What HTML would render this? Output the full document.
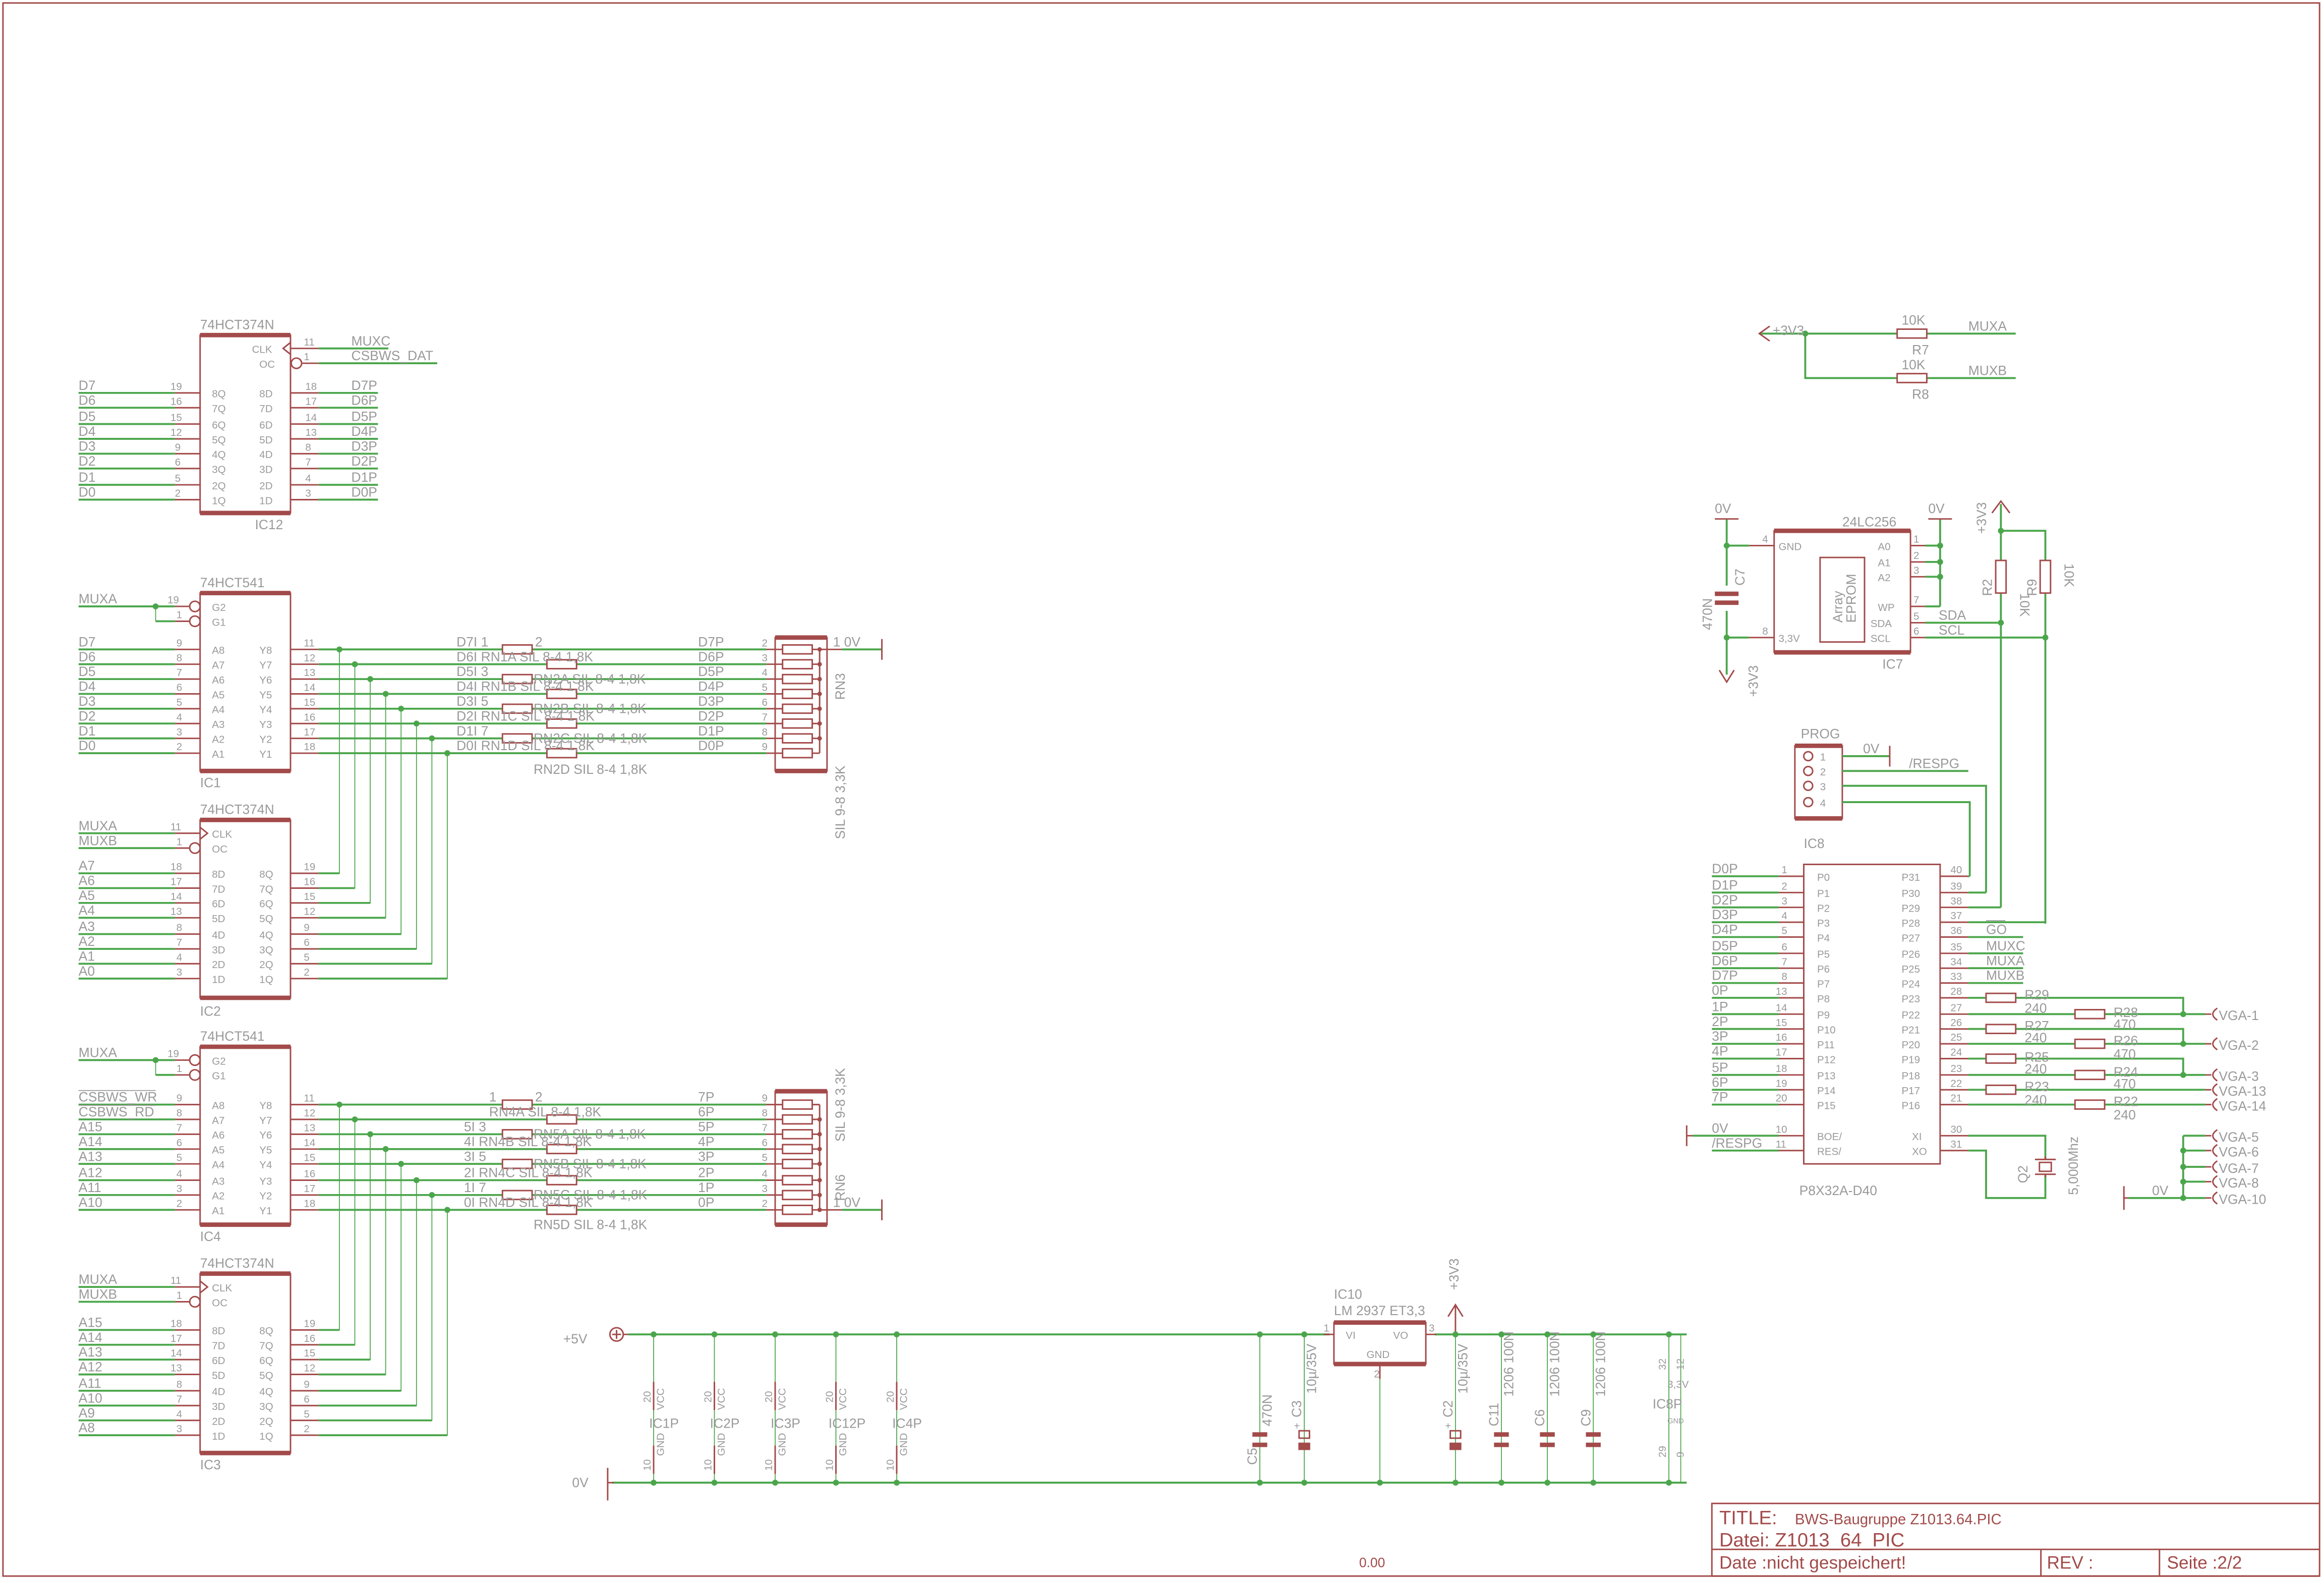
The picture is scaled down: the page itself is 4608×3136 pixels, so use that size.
<!DOCTYPE html>
<html><head><meta charset="utf-8"><style>
html,body{margin:0;padding:0;background:#fff}
svg{display:block}
.g{stroke:#4ba64b;stroke-width:1.3;fill:none}
.gt{stroke:#4ba64b;stroke-width:.6;fill:none}
.r{stroke:#a34a4a;stroke-width:1;fill:none}
.rt{stroke:#a34a4a;stroke-width:3;fill:none}
.t{fill:#9a9a9a;font-family:"Liberation Sans",sans-serif;font-size:9px}
.s{fill:#9a9a9a;font-family:"Liberation Sans",sans-serif;font-size:7px}
.rd{fill:#a34a4a;font-family:"Liberation Sans",sans-serif}
.j{fill:#4ba64b}
.rf{fill:#a34a4a}
</style></head><body>
<svg width="4608" height="3136" viewBox="0 0 1568 1067" preserveAspectRatio="none" xmlns="http://www.w3.org/2000/svg">
<rect x="2" y="2" width="1563" height="1061" class="r"/>

<!-- ===== IC12 74HCT374N ===== -->
<text class="t" x="135" y="222">74HCT374N</text>
<rect x="135" y="226" width="61" height="120" class="r"/>
<line x1="135" y1="226" x2="196" y2="226" class="rt"/><line x1="135" y1="346" x2="196" y2="346" class="rt"/>
<text class="t" x="172" y="357">IC12</text>
<text class="s" x="170" y="238">CLK</text><path d="M196 231 L191 235 L196 239" class="r"/>
<line x1="196" y1="235" x2="215" y2="235" class="r"/><line x1="215" y1="235" x2="262" y2="235" class="g"/>
<text class="s" x="205" y="233">11</text><text class="t" x="237" y="233">MUXC</text>
<text class="s" x="175" y="248">OC</text><circle cx="200" cy="245" r="3.5" class="r"/>
<line x1="204" y1="245" x2="215" y2="245" class="r"/><line x1="215" y1="245" x2="295" y2="245" class="g"/>
<text class="s" x="205" y="243">1</text><text class="t" x="237" y="243">CSBWS_DAT</text>
<g>
<line x1="53" y1="265" x2="118" y2="265" class="g"/><line x1="118" y1="265" x2="135" y2="265" class="r"/><text class="t" x="53" y="263">D7</text><text class="s" x="115" y="263">19</text><text class="s" x="143" y="268">8Q</text><text class="s" x="175" y="268">8D</text><line x1="196" y1="265" x2="215" y2="265" class="r"/><line x1="215" y1="265" x2="255" y2="265" class="g"/><text class="s" x="206" y="263">18</text><text class="t" x="237" y="263">D7P</text>
<line x1="53" y1="275" x2="118" y2="275" class="g"/><line x1="118" y1="275" x2="135" y2="275" class="r"/><text class="t" x="53" y="273">D6</text><text class="s" x="115" y="273">16</text><text class="s" x="143" y="278">7Q</text><text class="s" x="175" y="278">7D</text><line x1="196" y1="275" x2="215" y2="275" class="r"/><line x1="215" y1="275" x2="255" y2="275" class="g"/><text class="s" x="206" y="273">17</text><text class="t" x="237" y="273">D6P</text>
<line x1="53" y1="286" x2="118" y2="286" class="g"/><line x1="118" y1="286" x2="135" y2="286" class="r"/><text class="t" x="53" y="284">D5</text><text class="s" x="115" y="284">15</text><text class="s" x="143" y="289">6Q</text><text class="s" x="175" y="289">6D</text><line x1="196" y1="286" x2="215" y2="286" class="r"/><line x1="215" y1="286" x2="255" y2="286" class="g"/><text class="s" x="206" y="284">14</text><text class="t" x="237" y="284">D5P</text>
<line x1="53" y1="296" x2="118" y2="296" class="g"/><line x1="118" y1="296" x2="135" y2="296" class="r"/><text class="t" x="53" y="294">D4</text><text class="s" x="115" y="294">12</text><text class="s" x="143" y="299">5Q</text><text class="s" x="175" y="299">5D</text><line x1="196" y1="296" x2="215" y2="296" class="r"/><line x1="215" y1="296" x2="255" y2="296" class="g"/><text class="s" x="206" y="294">13</text><text class="t" x="237" y="294">D4P</text>
<line x1="53" y1="306" x2="118" y2="306" class="g"/><line x1="118" y1="306" x2="135" y2="306" class="r"/><text class="t" x="53" y="304">D3</text><text class="s" x="118" y="304">9</text><text class="s" x="143" y="309">4Q</text><text class="s" x="175" y="309">4D</text><line x1="196" y1="306" x2="215" y2="306" class="r"/><line x1="215" y1="306" x2="255" y2="306" class="g"/><text class="s" x="206" y="304">8</text><text class="t" x="237" y="304">D3P</text>
<line x1="53" y1="316" x2="118" y2="316" class="g"/><line x1="118" y1="316" x2="135" y2="316" class="r"/><text class="t" x="53" y="314">D2</text><text class="s" x="118" y="314">6</text><text class="s" x="143" y="319">3Q</text><text class="s" x="175" y="319">3D</text><line x1="196" y1="316" x2="215" y2="316" class="r"/><line x1="215" y1="316" x2="255" y2="316" class="g"/><text class="s" x="206" y="314">7</text><text class="t" x="237" y="314">D2P</text>
<line x1="53" y1="327" x2="118" y2="327" class="g"/><line x1="118" y1="327" x2="135" y2="327" class="r"/><text class="t" x="53" y="325">D1</text><text class="s" x="118" y="325">5</text><text class="s" x="143" y="330">2Q</text><text class="s" x="175" y="330">2D</text><line x1="196" y1="327" x2="215" y2="327" class="r"/><line x1="215" y1="327" x2="255" y2="327" class="g"/><text class="s" x="206" y="325">4</text><text class="t" x="237" y="325">D1P</text>
<line x1="53" y1="337" x2="118" y2="337" class="g"/><line x1="118" y1="337" x2="135" y2="337" class="r"/><text class="t" x="53" y="335">D0</text><text class="s" x="118" y="335">2</text><text class="s" x="143" y="340">1Q</text><text class="s" x="175" y="340">1D</text><line x1="196" y1="337" x2="215" y2="337" class="r"/><line x1="215" y1="337" x2="255" y2="337" class="g"/><text class="s" x="206" y="335">3</text><text class="t" x="237" y="335">D0P</text>
</g>

<!-- ===== IC1 74HCT541 ===== -->
<text class="t" x="135" y="396">74HCT541</text>
<rect x="135" y="400" width="61" height="120" class="r"/>
<line x1="135" y1="400" x2="196" y2="400" class="rt"/><line x1="135" y1="520" x2="196" y2="520" class="rt"/>
<text class="t" x="135" y="531">IC1</text>
<line x1="53" y1="409" x2="118" y2="409" class="g"/><line x1="105" y1="409" x2="105" y2="419" class="gt"/><line x1="105" y1="419" x2="118" y2="419" class="g"/><circle cx="105" cy="409" r="2" class="j"/>
<line x1="118" y1="409" x2="128" y2="409" class="r"/><line x1="118" y1="419" x2="128" y2="419" class="r"/>
<circle cx="131.5" cy="409" r="3.5" class="r"/><circle cx="131.5" cy="419" r="3.5" class="r"/>
<text class="t" x="53" y="407">MUXA</text><text class="s" x="113" y="407">19</text><text class="s" x="119" y="417">1</text>
<text class="s" x="143" y="412">G2</text><text class="s" x="143" y="422">G1</text>

<!-- IC4 header -->
<text class="t" x="135" y="702">74HCT541</text>
<rect x="135" y="706" width="61" height="120" class="r"/>
<line x1="135" y1="706" x2="196" y2="706" class="rt"/><line x1="135" y1="826" x2="196" y2="826" class="rt"/>
<text class="t" x="135" y="837">IC4</text>
<line x1="53" y1="715" x2="118" y2="715" class="g"/><line x1="105" y1="715" x2="105" y2="725" class="gt"/><line x1="105" y1="725" x2="118" y2="725" class="g"/><circle cx="105" cy="715" r="2" class="j"/>
<line x1="118" y1="715" x2="128" y2="715" class="r"/><line x1="118" y1="725" x2="128" y2="725" class="r"/>
<circle cx="131.5" cy="715" r="3.5" class="r"/><circle cx="131.5" cy="725" r="3.5" class="r"/>
<text class="t" x="53" y="713">MUXA</text><text class="s" x="113" y="713">19</text><text class="s" x="119" y="723">1</text>
<text class="s" x="143" y="718">G2</text><text class="s" x="143" y="728">G1</text>

<!-- IC1 rows -->
<g>
<line x1="53" y1="438" x2="118" y2="438" class="g"/><line x1="118" y1="438" x2="135" y2="438" class="r"/><text class="t" x="53" y="436">D7</text><text class="s" x="119" y="436">9</text><text class="s" x="143" y="441">A8</text><text class="s" x="175" y="441">Y8</text><line x1="196" y1="438" x2="215" y2="438" class="r"/><text class="s" x="205" y="436">11</text>
<line x1="53" y1="448" x2="118" y2="448" class="g"/><line x1="118" y1="448" x2="135" y2="448" class="r"/><text class="t" x="53" y="446">D6</text><text class="s" x="119" y="446">8</text><text class="s" x="143" y="451">A7</text><text class="s" x="175" y="451">Y7</text><line x1="196" y1="448" x2="215" y2="448" class="r"/><text class="s" x="205" y="446">12</text>
<line x1="53" y1="458" x2="118" y2="458" class="g"/><line x1="118" y1="458" x2="135" y2="458" class="r"/><text class="t" x="53" y="456">D5</text><text class="s" x="119" y="456">7</text><text class="s" x="143" y="461">A6</text><text class="s" x="175" y="461">Y6</text><line x1="196" y1="458" x2="215" y2="458" class="r"/><text class="s" x="205" y="456">13</text>
<line x1="53" y1="468" x2="118" y2="468" class="g"/><line x1="118" y1="468" x2="135" y2="468" class="r"/><text class="t" x="53" y="466">D4</text><text class="s" x="119" y="466">6</text><text class="s" x="143" y="471">A5</text><text class="s" x="175" y="471">Y5</text><line x1="196" y1="468" x2="215" y2="468" class="r"/><text class="s" x="205" y="466">14</text>
<line x1="53" y1="478" x2="118" y2="478" class="g"/><line x1="118" y1="478" x2="135" y2="478" class="r"/><text class="t" x="53" y="476">D3</text><text class="s" x="119" y="476">5</text><text class="s" x="143" y="481">A4</text><text class="s" x="175" y="481">Y4</text><line x1="196" y1="478" x2="215" y2="478" class="r"/><text class="s" x="205" y="476">15</text>
<line x1="53" y1="488" x2="118" y2="488" class="g"/><line x1="118" y1="488" x2="135" y2="488" class="r"/><text class="t" x="53" y="486">D2</text><text class="s" x="119" y="486">4</text><text class="s" x="143" y="491">A3</text><text class="s" x="175" y="491">Y3</text><line x1="196" y1="488" x2="215" y2="488" class="r"/><text class="s" x="205" y="486">16</text>
<line x1="53" y1="498" x2="118" y2="498" class="g"/><line x1="118" y1="498" x2="135" y2="498" class="r"/><text class="t" x="53" y="496">D1</text><text class="s" x="119" y="496">3</text><text class="s" x="143" y="501">A2</text><text class="s" x="175" y="501">Y2</text><line x1="196" y1="498" x2="215" y2="498" class="r"/><text class="s" x="205" y="496">17</text>
<line x1="53" y1="508" x2="118" y2="508" class="g"/><line x1="118" y1="508" x2="135" y2="508" class="r"/><text class="t" x="53" y="506">D0</text><text class="s" x="119" y="506">2</text><text class="s" x="143" y="511">A1</text><text class="s" x="175" y="511">Y1</text><line x1="196" y1="508" x2="215" y2="508" class="r"/><text class="s" x="205" y="506">18</text>
</g>
<!-- IC1 right wires with resistors -->
<g>
<path d="M215 438 H339 M359 438 H517" class="g"/><rect x="339" y="435" width="20" height="6" class="r"/>
<path d="M215 448 H369 M389 448 H517" class="g"/><rect x="369" y="445" width="20" height="6" class="r"/>
<path d="M215 458 H339 M359 458 H517" class="g"/><rect x="339" y="455" width="20" height="6" class="r"/>
<path d="M215 468 H369 M389 468 H517" class="g"/><rect x="369" y="465" width="20" height="6" class="r"/>
<path d="M215 478 H339 M359 478 H517" class="g"/><rect x="339" y="475" width="20" height="6" class="r"/>
<path d="M215 488 H369 M389 488 H517" class="g"/><rect x="369" y="485" width="20" height="6" class="r"/>
<path d="M215 498 H339 M359 498 H517" class="g"/><rect x="339" y="495" width="20" height="6" class="r"/>
<path d="M215 508 H369 M389 508 H517" class="g"/><rect x="369" y="505" width="20" height="6" class="r"/>
<text class="t" x="308" y="436">D7I 1</text><text class="t" x="361" y="436">2</text>
<text class="t" x="308" y="446">D6I RN1A SIL 8-4 1,8K</text>
<text class="t" x="308" y="456">D5I 3</text><text class="t" x="360" y="461">RN2A SIL 8-4 1,8K</text>
<text class="t" x="308" y="466">D4I RN1B SIL 8-4 1,8K</text>
<text class="t" x="308" y="476">D3I 5</text><text class="t" x="360" y="481">RN2B SIL 8-4 1,8K</text>
<text class="t" x="308" y="486">D2I RN1C SIL 8-4 1,8K</text>
<text class="t" x="308" y="496">D1I 7</text><text class="t" x="360" y="501">RN2C SIL 8-4 1,8K</text>
<text class="t" x="308" y="506">D0I RN1D SIL 8-4 1,8K</text>
<text class="t" x="360" y="522">RN2D SIL 8-4 1,8K</text>
<text class="t" x="471" y="436">D7P</text><text class="t" x="471" y="446">D6P</text><text class="t" x="471" y="456">D5P</text><text class="t" x="471" y="466">D4P</text><text class="t" x="471" y="476">D3P</text><text class="t" x="471" y="486">D2P</text><text class="t" x="471" y="496">D1P</text><text class="t" x="471" y="506">D0P</text>
</g>
<!-- RN3 -->
<g>
<rect x="523" y="430" width="35" height="90" class="r"/><line x1="523" y1="430" x2="558" y2="430" class="rt"/><line x1="523" y1="520" x2="558" y2="520" class="rt"/>
<path d="M517 438 H528 M517 448 H528 M517 458 H528 M517 468 H528 M517 478 H528 M517 488 H528 M517 498 H528 M517 508 H528" class="r"/>
<rect x="528" y="435" width="20" height="6" class="r"/><rect x="528" y="445" width="20" height="6" class="r"/><rect x="528" y="455" width="20" height="6" class="r"/><rect x="528" y="465" width="20" height="6" class="r"/><rect x="528" y="475" width="20" height="6" class="r"/><rect x="528" y="485" width="20" height="6" class="r"/><rect x="528" y="495" width="20" height="6" class="r"/><rect x="528" y="505" width="20" height="6" class="r"/>
<path d="M548 438 H553 M548 448 H553 M548 458 H553 M548 468 H553 M548 478 H553 M548 488 H553 M548 498 H553 M548 508 H553 M553 438 V508 M553 438 H568" class="r"/>
<circle cx="553" cy="438" r="1.5" class="rf"/><circle cx="553" cy="448" r="1.5" class="rf"/><circle cx="553" cy="458" r="1.5" class="rf"/><circle cx="553" cy="468" r="1.5" class="rf"/><circle cx="553" cy="478" r="1.5" class="rf"/><circle cx="553" cy="488" r="1.5" class="rf"/><circle cx="553" cy="498" r="1.5" class="rf"/>
<line x1="568" y1="438" x2="595" y2="438" class="g"/><line x1="595" y1="431" x2="595" y2="445" class="r"/>
<text class="t" x="562" y="436">1 0V</text>
<text class="s" x="514" y="436">2</text><text class="s" x="514" y="446">3</text><text class="s" x="514" y="456">4</text><text class="s" x="514" y="466">5</text><text class="s" x="514" y="476">6</text><text class="s" x="514" y="486">7</text><text class="s" x="514" y="496">8</text><text class="s" x="514" y="506">9</text>
<text class="t" transform="translate(570,472) rotate(-90)">RN3</text>
<text class="t" transform="translate(570,566) rotate(-90)">SIL 9-8 3,3K</text>
</g>

<!-- ===== IC2 74HCT374N ===== -->
<text class="t" x="135" y="549">74HCT374N</text>
<rect x="135" y="553" width="61" height="120" class="r"/>
<line x1="135" y1="553" x2="196" y2="553" class="rt"/><line x1="135" y1="673" x2="196" y2="673" class="rt"/>
<text class="t" x="135" y="685">IC2</text>
<line x1="53" y1="562" x2="118" y2="562" class="g"/><line x1="118" y1="562" x2="135" y2="562" class="r"/><path d="M135 558 L140 562 L135 566" class="r"/><text class="t" x="53" y="560">MUXA</text><text class="s" x="115" y="560">11</text><text class="s" x="143" y="565">CLK</text>
<line x1="53" y1="572" x2="118" y2="572" class="g"/><line x1="118" y1="572" x2="128" y2="572" class="r"/><circle cx="131.5" cy="572" r="3.5" class="r"/><text class="t" x="53" y="570">MUXB</text><text class="s" x="119" y="570">1</text><text class="s" x="143" y="575">OC</text>
<g>
<line x1="53" y1="589" x2="118" y2="589" class="g"/><line x1="118" y1="589" x2="135" y2="589" class="r"/><text class="t" x="53" y="587">A7</text><text class="s" x="115" y="587">18</text><text class="s" x="143" y="592">8D</text><text class="s" x="175" y="592">8Q</text><line x1="196" y1="589" x2="215" y2="589" class="r"/><text class="s" x="205" y="587">19</text>
<line x1="53" y1="599" x2="118" y2="599" class="g"/><line x1="118" y1="599" x2="135" y2="599" class="r"/><text class="t" x="53" y="597">A6</text><text class="s" x="115" y="597">17</text><text class="s" x="143" y="602">7D</text><text class="s" x="175" y="602">7Q</text><line x1="196" y1="599" x2="215" y2="599" class="r"/><text class="s" x="205" y="597">16</text>
<line x1="53" y1="609" x2="118" y2="609" class="g"/><line x1="118" y1="609" x2="135" y2="609" class="r"/><text class="t" x="53" y="607">A5</text><text class="s" x="115" y="607">14</text><text class="s" x="143" y="612">6D</text><text class="s" x="175" y="612">6Q</text><line x1="196" y1="609" x2="215" y2="609" class="r"/><text class="s" x="205" y="607">15</text>
<line x1="53" y1="619" x2="118" y2="619" class="g"/><line x1="118" y1="619" x2="135" y2="619" class="r"/><text class="t" x="53" y="617">A4</text><text class="s" x="115" y="617">13</text><text class="s" x="143" y="622">5D</text><text class="s" x="175" y="622">5Q</text><line x1="196" y1="619" x2="215" y2="619" class="r"/><text class="s" x="205" y="617">12</text>
<line x1="53" y1="630" x2="118" y2="630" class="g"/><line x1="118" y1="630" x2="135" y2="630" class="r"/><text class="t" x="53" y="628">A3</text><text class="s" x="119" y="628">8</text><text class="s" x="143" y="633">4D</text><text class="s" x="175" y="633">4Q</text><line x1="196" y1="630" x2="215" y2="630" class="r"/><text class="s" x="205" y="628">9</text>
<line x1="53" y1="640" x2="118" y2="640" class="g"/><line x1="118" y1="640" x2="135" y2="640" class="r"/><text class="t" x="53" y="638">A2</text><text class="s" x="119" y="638">7</text><text class="s" x="143" y="643">3D</text><text class="s" x="175" y="643">3Q</text><line x1="196" y1="640" x2="215" y2="640" class="r"/><text class="s" x="205" y="638">6</text>
<line x1="53" y1="650" x2="118" y2="650" class="g"/><line x1="118" y1="650" x2="135" y2="650" class="r"/><text class="t" x="53" y="648">A1</text><text class="s" x="119" y="648">4</text><text class="s" x="143" y="653">2D</text><text class="s" x="175" y="653">2Q</text><line x1="196" y1="650" x2="215" y2="650" class="r"/><text class="s" x="205" y="648">5</text>
<line x1="53" y1="660" x2="118" y2="660" class="g"/><line x1="118" y1="660" x2="135" y2="660" class="r"/><text class="t" x="53" y="658">A0</text><text class="s" x="119" y="658">3</text><text class="s" x="143" y="663">1D</text><text class="s" x="175" y="663">1Q</text><line x1="196" y1="660" x2="215" y2="660" class="r"/><text class="s" x="205" y="658">2</text>
</g>
<!-- IC1 junction verticals to IC2 -->
<g>
<path d="M215 589 H229 V438 M215 599 H239.4 V448 M215 609 H249.8 V458 M215 619 H260.2 V468 M215 630 H270.6 V478 M215 640 H281 V488 M215 650 H291.4 V498 M215 660 H301.8 V508" class="gt"/>
<path d="M215 589 H229 M215 599 H239.4 M215 609 H249.8 M215 619 H260.2 M215 630 H270.6 M215 640 H281 M215 650 H291.4 M215 660 H301.8" class="g"/>
<circle cx="229" cy="438" r="2" class="j"/><circle cx="239.4" cy="448" r="2" class="j"/><circle cx="249.8" cy="458" r="2" class="j"/><circle cx="260.2" cy="468" r="2" class="j"/><circle cx="270.6" cy="478" r="2" class="j"/><circle cx="281" cy="488" r="2" class="j"/><circle cx="291.4" cy="498" r="2" class="j"/><circle cx="301.8" cy="508" r="2" class="j"/>
</g>

<!-- IC4 rows -->
<g>
<line x1="53" y1="745" x2="118" y2="745" class="g"/><line x1="118" y1="745" x2="135" y2="745" class="r"/><text class="t" x="53" y="743">CSBWS_WR</text><line x1="53" y1="735.5" x2="105" y2="735.5" stroke="#9a9a9a" stroke-width=".6"/><text class="s" x="119" y="743">9</text><text class="s" x="143" y="748">A8</text><text class="s" x="175" y="748">Y8</text><line x1="196" y1="745" x2="215" y2="745" class="r"/><text class="s" x="205" y="743">11</text>
<line x1="53" y1="755" x2="118" y2="755" class="g"/><line x1="118" y1="755" x2="135" y2="755" class="r"/><text class="t" x="53" y="753">CSBWS_RD</text><line x1="53" y1="745.5" x2="105" y2="745.5" stroke="#9a9a9a" stroke-width=".6"/><text class="s" x="119" y="753">8</text><text class="s" x="143" y="758">A7</text><text class="s" x="175" y="758">Y7</text><line x1="196" y1="755" x2="215" y2="755" class="r"/><text class="s" x="205" y="753">12</text>
<line x1="53" y1="765" x2="118" y2="765" class="g"/><line x1="118" y1="765" x2="135" y2="765" class="r"/><text class="t" x="53" y="763">A15</text><text class="s" x="119" y="763">7</text><text class="s" x="143" y="768">A6</text><text class="s" x="175" y="768">Y6</text><line x1="196" y1="765" x2="215" y2="765" class="r"/><text class="s" x="205" y="763">13</text>
<line x1="53" y1="775" x2="118" y2="775" class="g"/><line x1="118" y1="775" x2="135" y2="775" class="r"/><text class="t" x="53" y="773">A14</text><text class="s" x="119" y="773">6</text><text class="s" x="143" y="778">A5</text><text class="s" x="175" y="778">Y5</text><line x1="196" y1="775" x2="215" y2="775" class="r"/><text class="s" x="205" y="773">14</text>
<line x1="53" y1="785" x2="118" y2="785" class="g"/><line x1="118" y1="785" x2="135" y2="785" class="r"/><text class="t" x="53" y="783">A13</text><text class="s" x="119" y="783">5</text><text class="s" x="143" y="788">A4</text><text class="s" x="175" y="788">Y4</text><line x1="196" y1="785" x2="215" y2="785" class="r"/><text class="s" x="205" y="783">15</text>
<line x1="53" y1="796" x2="118" y2="796" class="g"/><line x1="118" y1="796" x2="135" y2="796" class="r"/><text class="t" x="53" y="794">A12</text><text class="s" x="119" y="794">4</text><text class="s" x="143" y="799">A3</text><text class="s" x="175" y="799">Y3</text><line x1="196" y1="796" x2="215" y2="796" class="r"/><text class="s" x="205" y="794">16</text>
<line x1="53" y1="806" x2="118" y2="806" class="g"/><line x1="118" y1="806" x2="135" y2="806" class="r"/><text class="t" x="53" y="804">A11</text><text class="s" x="119" y="804">3</text><text class="s" x="143" y="809">A2</text><text class="s" x="175" y="809">Y2</text><line x1="196" y1="806" x2="215" y2="806" class="r"/><text class="s" x="205" y="804">17</text>
<line x1="53" y1="816" x2="118" y2="816" class="g"/><line x1="118" y1="816" x2="135" y2="816" class="r"/><text class="t" x="53" y="814">A10</text><text class="s" x="119" y="814">2</text><text class="s" x="143" y="819">A1</text><text class="s" x="175" y="819">Y1</text><line x1="196" y1="816" x2="215" y2="816" class="r"/><text class="s" x="205" y="814">18</text>
</g>
<g>
<path d="M215 745 H339 M359 745 H517" class="g"/><rect x="339" y="742" width="20" height="6" class="r"/>
<path d="M215 755 H369 M389 755 H517" class="g"/><rect x="369" y="752" width="20" height="6" class="r"/>
<path d="M215 765 H339 M359 765 H517" class="g"/><rect x="339" y="762" width="20" height="6" class="r"/>
<path d="M215 775 H369 M389 775 H517" class="g"/><rect x="369" y="772" width="20" height="6" class="r"/>
<path d="M215 785 H339 M359 785 H517" class="g"/><rect x="339" y="782" width="20" height="6" class="r"/>
<path d="M215 796 H369 M389 796 H517" class="g"/><rect x="369" y="793" width="20" height="6" class="r"/>
<path d="M215 806 H339 M359 806 H517" class="g"/><rect x="339" y="803" width="20" height="6" class="r"/>
<path d="M215 816 H369 M389 816 H517" class="g"/><rect x="369" y="813" width="20" height="6" class="r"/>
<text class="t" x="330" y="743">1</text><text class="t" x="361" y="743">2</text>
<text class="t" x="330" y="753">RN4A SIL 8-4 1,8K</text>
<text class="t" x="313" y="763">5I 3</text><text class="t" x="360" y="768">RN5A SIL 8-4 1,8K</text>
<text class="t" x="313" y="773">4I RN4B SIL 8-4 1,8K</text>
<text class="t" x="313" y="783">3I 5</text><text class="t" x="360" y="788">RN5B SIL 8-4 1,8K</text>
<text class="t" x="313" y="794">2I RN4C SIL 8-4 1,8K</text>
<text class="t" x="313" y="804">1I 7</text><text class="t" x="360" y="809">RN5C SIL 8-4 1,8K</text>
<text class="t" x="313" y="814">0I RN4D SIL 8-4 1,8K</text>
<text class="t" x="360" y="829">RN5D SIL 8-4 1,8K</text>
<text class="t" x="471" y="743">7P</text><text class="t" x="471" y="753">6P</text><text class="t" x="471" y="763">5P</text><text class="t" x="471" y="773">4P</text><text class="t" x="471" y="783">3P</text><text class="t" x="471" y="794">2P</text><text class="t" x="471" y="804">1P</text><text class="t" x="471" y="814">0P</text>
</g>
<!-- RN6 -->
<g>
<rect x="523" y="736" width="35" height="90" class="r"/><line x1="523" y1="736" x2="558" y2="736" class="rt"/><line x1="523" y1="826" x2="558" y2="826" class="rt"/>
<path d="M517 745 H528 M517 755 H528 M517 765 H528 M517 775 H528 M517 785 H528 M517 796 H528 M517 806 H528 M517 816 H528" class="r"/>
<rect x="528" y="742" width="20" height="6" class="r"/><rect x="528" y="752" width="20" height="6" class="r"/><rect x="528" y="762" width="20" height="6" class="r"/><rect x="528" y="772" width="20" height="6" class="r"/><rect x="528" y="782" width="20" height="6" class="r"/><rect x="528" y="793" width="20" height="6" class="r"/><rect x="528" y="803" width="20" height="6" class="r"/><rect x="528" y="813" width="20" height="6" class="r"/>
<path d="M548 745 H553 M548 755 H553 M548 765 H553 M548 775 H553 M548 785 H553 M548 796 H553 M548 806 H553 M548 816 H553 M553 745 V816 M553 816 H568" class="r"/>
<circle cx="553" cy="755" r="1.5" class="rf"/><circle cx="553" cy="765" r="1.5" class="rf"/><circle cx="553" cy="775" r="1.5" class="rf"/><circle cx="553" cy="785" r="1.5" class="rf"/><circle cx="553" cy="796" r="1.5" class="rf"/><circle cx="553" cy="806" r="1.5" class="rf"/><circle cx="553" cy="816" r="1.5" class="rf"/>
<line x1="568" y1="816" x2="595" y2="816" class="g"/><line x1="595" y1="809" x2="595" y2="823" class="r"/>
<text class="t" x="562" y="814">1 0V</text>
<text class="s" x="514" y="743">9</text><text class="s" x="514" y="753">8</text><text class="s" x="514" y="763">7</text><text class="s" x="514" y="773">6</text><text class="s" x="514" y="783">5</text><text class="s" x="514" y="794">4</text><text class="s" x="514" y="804">3</text><text class="s" x="514" y="814">2</text>
<text class="t" transform="translate(570,770) rotate(-90)">SIL 9-8 3,3K</text>
<text class="t" transform="translate(570,810) rotate(-90)">RN6</text>
</g>

<!-- ===== IC3 74HCT374N ===== -->
<text class="t" x="135" y="855">74HCT374N</text>
<rect x="135" y="859" width="61" height="121" class="r"/>
<line x1="135" y1="859" x2="196" y2="859" class="rt"/><line x1="135" y1="980" x2="196" y2="980" class="rt"/>
<text class="t" x="135" y="991">IC3</text>
<line x1="53" y1="868" x2="118" y2="868" class="g"/><line x1="118" y1="868" x2="135" y2="868" class="r"/><path d="M135 864 L140 868 L135 872" class="r"/><text class="t" x="53" y="866">MUXA</text><text class="s" x="115" y="866">11</text><text class="s" x="143" y="871">CLK</text>
<line x1="53" y1="878" x2="118" y2="878" class="g"/><line x1="118" y1="878" x2="128" y2="878" class="r"/><circle cx="131.5" cy="878" r="3.5" class="r"/><text class="t" x="53" y="876">MUXB</text><text class="s" x="119" y="876">1</text><text class="s" x="143" y="881">OC</text>
<g>
<line x1="53" y1="897" x2="118" y2="897" class="g"/><line x1="118" y1="897" x2="135" y2="897" class="r"/><text class="t" x="53" y="895">A15</text><text class="s" x="115" y="895">18</text><text class="s" x="143" y="900">8D</text><text class="s" x="175" y="900">8Q</text><line x1="196" y1="897" x2="215" y2="897" class="r"/><text class="s" x="205" y="895">19</text>
<line x1="53" y1="907" x2="118" y2="907" class="g"/><line x1="118" y1="907" x2="135" y2="907" class="r"/><text class="t" x="53" y="905">A14</text><text class="s" x="115" y="905">17</text><text class="s" x="143" y="910">7D</text><text class="s" x="175" y="910">7Q</text><line x1="196" y1="907" x2="215" y2="907" class="r"/><text class="s" x="205" y="905">16</text>
<line x1="53" y1="917" x2="118" y2="917" class="g"/><line x1="118" y1="917" x2="135" y2="917" class="r"/><text class="t" x="53" y="915">A13</text><text class="s" x="115" y="915">14</text><text class="s" x="143" y="920">6D</text><text class="s" x="175" y="920">6Q</text><line x1="196" y1="917" x2="215" y2="917" class="r"/><text class="s" x="205" y="915">15</text>
<line x1="53" y1="927" x2="118" y2="927" class="g"/><line x1="118" y1="927" x2="135" y2="927" class="r"/><text class="t" x="53" y="925">A12</text><text class="s" x="115" y="925">13</text><text class="s" x="143" y="930">5D</text><text class="s" x="175" y="930">5Q</text><line x1="196" y1="927" x2="215" y2="927" class="r"/><text class="s" x="205" y="925">12</text>
<line x1="53" y1="938" x2="118" y2="938" class="g"/><line x1="118" y1="938" x2="135" y2="938" class="r"/><text class="t" x="53" y="936">A11</text><text class="s" x="119" y="936">8</text><text class="s" x="143" y="941">4D</text><text class="s" x="175" y="941">4Q</text><line x1="196" y1="938" x2="215" y2="938" class="r"/><text class="s" x="205" y="936">9</text>
<line x1="53" y1="948" x2="118" y2="948" class="g"/><line x1="118" y1="948" x2="135" y2="948" class="r"/><text class="t" x="53" y="946">A10</text><text class="s" x="119" y="946">7</text><text class="s" x="143" y="951">3D</text><text class="s" x="175" y="951">3Q</text><line x1="196" y1="948" x2="215" y2="948" class="r"/><text class="s" x="205" y="946">6</text>
<line x1="53" y1="958" x2="118" y2="958" class="g"/><line x1="118" y1="958" x2="135" y2="958" class="r"/><text class="t" x="53" y="956">A9</text><text class="s" x="119" y="956">4</text><text class="s" x="143" y="961">2D</text><text class="s" x="175" y="961">2Q</text><line x1="196" y1="958" x2="215" y2="958" class="r"/><text class="s" x="205" y="956">5</text>
<line x1="53" y1="968" x2="118" y2="968" class="g"/><line x1="118" y1="968" x2="135" y2="968" class="r"/><text class="t" x="53" y="966">A8</text><text class="s" x="119" y="966">3</text><text class="s" x="143" y="971">1D</text><text class="s" x="175" y="971">1Q</text><line x1="196" y1="968" x2="215" y2="968" class="r"/><text class="s" x="205" y="966">2</text>
</g>
<g>
<path d="M215 897 H229 V745 M215 907 H239.4 V755 M215 917 H249.8 V765 M215 927 H260.2 V775 M215 938 H270.6 V785 M215 948 H281 V796 M215 958 H291.4 V806 M215 968 H301.8 V816" class="gt"/>
<path d="M215 897 H229 M215 907 H239.4 M215 917 H249.8 M215 927 H260.2 M215 938 H270.6 M215 948 H281 M215 958 H291.4 M215 968 H301.8" class="g"/>
<circle cx="229" cy="745" r="2" class="j"/><circle cx="239.4" cy="755" r="2" class="j"/><circle cx="249.8" cy="765" r="2" class="j"/><circle cx="260.2" cy="775" r="2" class="j"/><circle cx="270.6" cy="785" r="2" class="j"/><circle cx="281" cy="796" r="2" class="j"/><circle cx="291.4" cy="806" r="2" class="j"/><circle cx="301.8" cy="816" r="2" class="j"/>
</g>

<!-- ===== Power section ===== -->
<g>
<text class="t" x="380" y="906">+5V</text>
<circle cx="416" cy="900" r="4.5" class="r"/><path d="M413 900 H419 M416 897 V903 M420.5 900 H424" class="r"/>
<line x1="424" y1="900" x2="897" y2="900" class="g"/>
<line x1="968" y1="900" x2="1138" y2="900" class="g"/>
<line x1="413" y1="1000" x2="1138" y2="1000" class="g"/>
<line x1="410" y1="990" x2="410" y2="1012" class="r"/><line x1="410" y1="1000" x2="414" y2="1000" class="r"/>
<text class="t" x="386" y="1003">0V</text>
<path d="M441 900 V1000 M482 900 V1000 M523 900 V1000 M564 900 V1000 M605 900 V1000" class="gt"/>
<path d="M441 932 V951 M482 932 V951 M523 932 V951 M564 932 V951 M605 932 V951 M441 975 V994 M482 975 V994 M523 975 V994 M564 975 V994 M605 975 V994" class="r"/>
<text class="s" transform="translate(439,946) rotate(-90)">20</text><text class="s" transform="translate(448,951) rotate(-90)">VCC</text>
<text class="s" transform="translate(480,946) rotate(-90)">20</text><text class="s" transform="translate(489,951) rotate(-90)">VCC</text>
<text class="s" transform="translate(521,946) rotate(-90)">20</text><text class="s" transform="translate(530,951) rotate(-90)">VCC</text>
<text class="s" transform="translate(562,946) rotate(-90)">20</text><text class="s" transform="translate(571,951) rotate(-90)">VCC</text>
<text class="s" transform="translate(603,946) rotate(-90)">20</text><text class="s" transform="translate(612,951) rotate(-90)">VCC</text>
<text class="t" x="438" y="963">IC1P</text><text class="t" x="479" y="963">IC2P</text><text class="t" x="520" y="963">IC3P</text><text class="t" x="559" y="963">IC12P</text><text class="t" x="602" y="963">IC4P</text>
<text class="s" transform="translate(439,992) rotate(-90)">10</text><text class="s" transform="translate(448,982) rotate(-90)">GND</text>
<text class="s" transform="translate(480,992) rotate(-90)">10</text><text class="s" transform="translate(489,982) rotate(-90)">GND</text>
<text class="s" transform="translate(521,992) rotate(-90)">10</text><text class="s" transform="translate(530,982) rotate(-90)">GND</text>
<text class="s" transform="translate(562,992) rotate(-90)">10</text><text class="s" transform="translate(571,982) rotate(-90)">GND</text>
<text class="s" transform="translate(603,992) rotate(-90)">10</text><text class="s" transform="translate(612,982) rotate(-90)">GND</text>
<!-- caps verticals -->
<path d="M850 900 V1000 M880 900 V1000 M982 900 V1000 M1013 900 V1000 M1044 900 V1000 M1075 900 V1000 M931 920 V1000 M1126 900 V1000 M1134 900 V1000" class="gt"/>
<!-- C5 -->
<rect x="845" y="966" width="10" height="3" class="rf"/><rect x="845" y="973" width="10" height="3" class="rf"/>
<text class="t" transform="translate(848,988) rotate(-90)">C5</text><text class="t" transform="translate(858,962) rotate(-90)">470N</text>
<!-- C3 -->
<rect x="876.5" y="965" width="7" height="5" class="r" fill="#fff"/><rect x="876" y="973" width="8" height="5" class="rf"/>
<text class="s" x="873" y="964">+</text>
<text class="t" transform="translate(878,956) rotate(-90)">C3</text><text class="t" transform="translate(888,940) rotate(-90)">10µ/35V</text>
<!-- IC10 -->
<text class="t" x="900" y="876">IC10</text><text class="t" x="900" y="887">LM 2937 ET3,3</text>
<rect x="900" y="892" width="62" height="28" class="r"/><line x1="900" y1="892" x2="962" y2="892" class="rt"/><line x1="900" y1="920" x2="962" y2="920" class="rt"/>
<path d="M893 900 H900 M962 900 H969 M931 920 V930" class="r"/>
<text class="s" x="908" y="903">VI</text><text class="s" x="940" y="903">VO</text><text class="s" x="922" y="916">GND</text>
<text class="s" x="893" y="898">1</text><text class="s" x="964" y="898">3</text><text class="s" x="927" y="929">2</text>
<path d="M982 900 V880 M977 888 L982 880 L987 888" class="r"/>
<text class="t" transform="translate(984,870) rotate(-90)">+3V3</text>
<!-- C2 -->
<rect x="978.5" y="965" width="7" height="5" class="r" fill="#fff"/><rect x="978" y="973" width="8" height="5" class="rf"/>
<text class="s" x="975" y="964">+</text>
<text class="t" transform="translate(980,956) rotate(-90)">C2</text><text class="t" transform="translate(990,940) rotate(-90)">10µ/35V</text>
<!-- C11, C6, C9 -->
<rect x="1008" y="966" width="10" height="3" class="rf"/><rect x="1008" y="973" width="10" height="3" class="rf"/>
<rect x="1039" y="966" width="10" height="3" class="rf"/><rect x="1039" y="973" width="10" height="3" class="rf"/>
<rect x="1070" y="966" width="10" height="3" class="rf"/><rect x="1070" y="973" width="10" height="3" class="rf"/>
<text class="t" transform="translate(1011,962) rotate(-90)">C11</text><text class="t" transform="translate(1021,942) rotate(-90)">1206 100N</text>
<text class="t" transform="translate(1042,962) rotate(-90)">C6</text><text class="t" transform="translate(1052,942) rotate(-90)">1206 100N</text>
<text class="t" transform="translate(1073,962) rotate(-90)">C9</text><text class="t" transform="translate(1083,942) rotate(-90)">1206 100N</text>
<!-- IC8P -->
<text class="s" transform="translate(1124,924) rotate(-90)">32</text><text class="s" transform="translate(1136,924) rotate(-90)">12</text>
<text class="s" x="1125" y="936">3,3V</text>
<text class="t" x="1115" y="950">IC8P</text><text class="s" x="1125" y="960" style="font-size:5px">GND</text>
<text class="s" transform="translate(1124,983) rotate(-90)">29</text><text class="s" transform="translate(1136,983) rotate(-90)">9</text>
<!-- junctions -->
<circle cx="441" cy="900" r="2" class="j"/><circle cx="482" cy="900" r="2" class="j"/><circle cx="523" cy="900" r="2" class="j"/><circle cx="564" cy="900" r="2" class="j"/><circle cx="605" cy="900" r="2" class="j"/>
<circle cx="850" cy="900" r="2" class="j"/><circle cx="880" cy="900" r="2" class="j"/><circle cx="982" cy="900" r="2" class="j"/><circle cx="1013" cy="900" r="2" class="j"/><circle cx="1044" cy="900" r="2" class="j"/><circle cx="1075" cy="900" r="2" class="j"/><circle cx="1126" cy="900" r="2" class="j"/>
<circle cx="441" cy="1000" r="2" class="j"/><circle cx="482" cy="1000" r="2" class="j"/><circle cx="523" cy="1000" r="2" class="j"/><circle cx="564" cy="1000" r="2" class="j"/><circle cx="605" cy="1000" r="2" class="j"/>
<circle cx="850" cy="1000" r="2" class="j"/><circle cx="880" cy="1000" r="2" class="j"/><circle cx="931" cy="1000" r="2" class="j"/><circle cx="982" cy="1000" r="2" class="j"/><circle cx="1013" cy="1000" r="2" class="j"/><circle cx="1044" cy="1000" r="2" class="j"/><circle cx="1075" cy="1000" r="2" class="j"/><circle cx="1126" cy="1000" r="2" class="j"/>
</g>

<!-- ===== R7 / R8 ===== -->
<g>
<path d="M1187 225 H1218 V255 H1280 M1300 255 H1360 M1218 225 H1280 M1300 225 H1360" class="g"/>
<path d="M1194 220 L1187 225 L1194 230" class="r"/>
<circle cx="1218" cy="225" r="2" class="j"/>
<rect x="1280" y="222" width="20" height="6" class="r"/><rect x="1280" y="252" width="20" height="6" class="r"/>
<text class="t" x="1196" y="226">+3V3</text>
<text class="t" x="1283" y="219">10K</text><text class="t" x="1290" y="239">R7</text><text class="t" x="1328" y="223">MUXA</text>
<text class="t" x="1283" y="249">10K</text><text class="t" x="1290" y="269">R8</text><text class="t" x="1328" y="253">MUXB</text>
</g>

<!-- ===== IC7 24LC256 ===== -->
<g>
<text class="t" x="1243" y="355">24LC256</text>
<rect x="1197" y="358" width="92" height="82" class="r"/><line x1="1197" y1="358" x2="1289" y2="358" class="rt"/><line x1="1197" y1="440" x2="1289" y2="440" class="rt"/>
<rect x="1228" y="376" width="30" height="57" class="r"/>
<text class="t" transform="translate(1243,420) rotate(-90)">Array</text><text class="t" transform="translate(1252,420) rotate(-90)">EPROM</text>
<text class="t" x="1270" y="451">IC7</text>
<text class="s" x="1200" y="371">GND</text><text class="s" x="1200" y="433">3,3V</text>
<text class="s" x="1267" y="371">A0</text><text class="s" x="1267" y="382">A1</text><text class="s" x="1267" y="392">A2</text><text class="s" x="1267" y="412">WP</text><text class="s" x="1262" y="423">SDA</text><text class="s" x="1262" y="433">SCL</text>
<path d="M1180 368 H1197 M1180 430 H1197 M1289 368 H1299 M1289 379 H1299 M1289 389 H1299 M1289 409 H1299 M1289 420 H1299 M1289 430 H1299" class="r"/>
<text class="s" x="1189" y="366">4</text><text class="s" x="1189" y="428">8</text>
<text class="s" x="1291" y="366">1</text><text class="s" x="1291" y="377">2</text><text class="s" x="1291" y="387">3</text><text class="s" x="1291" y="407">7</text><text class="s" x="1291" y="418">5</text><text class="s" x="1291" y="428">6</text>
<path d="M1165 350 V395 M1165 412 V455 M1165 368 H1180 M1165 430 H1180" class="g"/>
<line x1="1157" y1="350" x2="1173" y2="350" class="r"/>
<rect x="1157" y="399" width="16" height="3" class="rf"/><rect x="1157" y="405" width="16" height="3" class="rf"/>
<path d="M1160 452 L1165 460 L1170 452" class="r"/>
<circle cx="1165" cy="368" r="2" class="j"/><circle cx="1165" cy="430" r="2" class="j"/>
<text class="t" x="1157" y="346">0V</text>
<text class="t" transform="translate(1177,395) rotate(-90)">C7</text><text class="t" transform="translate(1155,425) rotate(-90)">470N</text>
<text class="t" transform="translate(1186,470) rotate(-90)">+3V3</text>
<path d="M1299 368 H1309 M1299 379 H1309 M1299 389 H1309 M1299 409 H1309 M1309 350 V409" class="g"/>
<line x1="1301" y1="350" x2="1317" y2="350" class="r"/><text class="t" x="1301" y="346">0V</text>
<circle cx="1309" cy="368" r="2" class="j"/><circle cx="1309" cy="379" r="2" class="j"/><circle cx="1309" cy="389" r="2" class="j"/>
<path d="M1299 420 H1350 M1299 430 H1380" class="g"/>
<text class="t" x="1308" y="418">SDA</text><text class="t" x="1308" y="428">SCL</text>
<!-- R2 R9 -->
<path d="M1350 340 V378 M1350 358 H1380 V378 M1350 400 V612 M1380 400 V623" class="g"/>
<path d="M1344 346 L1350 338 L1356 346" class="r"/>
<rect x="1346.5" y="378" width="7" height="22" class="r"/><rect x="1376.5" y="378" width="7" height="22" class="r"/>
<circle cx="1350" cy="358" r="2" class="j"/><circle cx="1350" cy="420" r="2" class="j"/><circle cx="1380" cy="430" r="2" class="j"/>
<text class="t" transform="translate(1340,360) rotate(-90)">+3V3</text>
<text class="t" transform="translate(1344,402) rotate(-90)">R2</text><text class="t" transform="translate(1363,400) rotate(90)">10K</text>
<text class="t" transform="translate(1374,402) rotate(-90)">R9</text><text class="t" transform="translate(1393,380) rotate(90)">10K</text>
</g>

<!-- ===== PROG IC8 ===== -->
<g>
<text class="t" x="1215" y="498">PROG</text>
<rect x="1211" y="503" width="32" height="49" class="r"/>
<line x1="1211" y1="503" x2="1243" y2="503" class="rt"/><line x1="1211" y1="552" x2="1243" y2="552" class="rt"/>
<circle cx="1220" cy="510" r="3" class="r"/><circle cx="1220" cy="520" r="3" class="r"/><circle cx="1220" cy="530" r="3" class="r"/><circle cx="1220" cy="541" r="3" class="r"/>
<text class="s" x="1228" y="513">1</text><text class="s" x="1228" y="523">2</text><text class="s" x="1228" y="533">3</text><text class="s" x="1228" y="544">4</text>
<text class="t" x="1217" y="572">IC8</text>
<path d="M1243 510 H1275 M1243 520 H1328 M1243 530 H1340 V602 M1243 541 H1329 V591" class="g"/>
<line x1="1275" y1="503" x2="1275" y2="517" class="r"/>
<text class="t" x="1257" y="508">0V</text><text class="t" x="1288" y="518">/RESPG</text>
</g>

<!-- ===== P8X32A ===== -->
<g>
<rect x="1217" y="583" width="92" height="202" class="r"/>
<text class="t" x="1214" y="806">P8X32A-D40</text>
<path d="M1155 591 H1200 M1155 602 H1200 M1155 612 H1200 M1155 622 H1200 M1155 632 H1200 M1155 643 H1200 M1155 653 H1200 M1155 663 H1200 M1155 673 H1200 M1155 684 H1200 M1155 694 H1200 M1155 704 H1200 M1155 714 H1200 M1155 725 H1200 M1155 735 H1200 M1155 745 H1200 M1142 766 H1200 M1155 776 H1200" class="g"/>
<path d="M1200 591 H1217 M1200 602 H1217 M1200 612 H1217 M1200 622 H1217 M1200 632 H1217 M1200 643 H1217 M1200 653 H1217 M1200 663 H1217 M1200 673 H1217 M1200 684 H1217 M1200 694 H1217 M1200 704 H1217 M1200 714 H1217 M1200 725 H1217 M1200 735 H1217 M1200 745 H1217 M1200 766 H1217 M1200 776 H1217 M1138 766 H1142" class="r"/>
<line x1="1138" y1="759" x2="1138" y2="773" class="r"/>
<text class="t" x="1155" y="589">D0P</text><text class="t" x="1155" y="600">D1P</text><text class="t" x="1155" y="610">D2P</text><text class="t" x="1155" y="620">D3P</text><text class="t" x="1155" y="630">D4P</text><text class="t" x="1155" y="641">D5P</text><text class="t" x="1155" y="651">D6P</text><text class="t" x="1155" y="661">D7P</text>
<text class="t" x="1155" y="671">0P</text><text class="t" x="1155" y="682">1P</text><text class="t" x="1155" y="692">2P</text><text class="t" x="1155" y="702">3P</text><text class="t" x="1155" y="712">4P</text><text class="t" x="1155" y="723">5P</text><text class="t" x="1155" y="733">6P</text><text class="t" x="1155" y="743">7P</text>
<text class="t" x="1155" y="764">0V</text><text class="t" x="1155" y="774">/RESPG</text>
<text class="s" x="1202" y="589">1</text><text class="s" x="1202" y="600">2</text><text class="s" x="1202" y="610">3</text><text class="s" x="1202" y="620">4</text><text class="s" x="1202" y="630">5</text><text class="s" x="1202" y="641">6</text><text class="s" x="1202" y="651">7</text><text class="s" x="1202" y="661">8</text>
<text class="s" x="1198" y="671">13</text><text class="s" x="1198" y="682">14</text><text class="s" x="1198" y="692">15</text><text class="s" x="1198" y="702">16</text><text class="s" x="1198" y="712">17</text><text class="s" x="1198" y="723">18</text><text class="s" x="1198" y="733">19</text><text class="s" x="1198" y="743">20</text><text class="s" x="1198" y="764">10</text><text class="s" x="1198" y="774">11</text>
<text class="s" x="1226" y="594">P0</text><text class="s" x="1226" y="605">P1</text><text class="s" x="1226" y="615">P2</text><text class="s" x="1226" y="625">P3</text><text class="s" x="1226" y="635">P4</text><text class="s" x="1226" y="646">P5</text><text class="s" x="1226" y="656">P6</text><text class="s" x="1226" y="666">P7</text><text class="s" x="1226" y="676">P8</text><text class="s" x="1226" y="687">P9</text><text class="s" x="1226" y="697">P10</text><text class="s" x="1226" y="707">P11</text><text class="s" x="1226" y="717">P12</text><text class="s" x="1226" y="728">P13</text><text class="s" x="1226" y="738">P14</text><text class="s" x="1226" y="748">P15</text><text class="s" x="1226" y="769">BOE/</text><text class="s" x="1226" y="779">RES/</text>
<text class="s" x="1283" y="594">P31</text><text class="s" x="1283" y="605">P30</text><text class="s" x="1283" y="615">P29</text><text class="s" x="1283" y="625">P28</text><text class="s" x="1283" y="635">P27</text><text class="s" x="1283" y="646">P26</text><text class="s" x="1283" y="656">P25</text><text class="s" x="1283" y="666">P24</text><text class="s" x="1283" y="676">P23</text><text class="s" x="1283" y="687">P22</text><text class="s" x="1283" y="697">P21</text><text class="s" x="1283" y="707">P20</text><text class="s" x="1283" y="717">P19</text><text class="s" x="1283" y="728">P18</text><text class="s" x="1283" y="738">P17</text><text class="s" x="1283" y="748">P16</text><text class="s" x="1290" y="769">XI</text><text class="s" x="1290" y="779">XO</text>
<path d="M1309 591 H1328 M1309 602 H1328 M1309 612 H1328 M1309 622 H1328 M1309 632 H1328 M1309 643 H1328 M1309 653 H1328 M1309 663 H1328 M1309 673 H1328 M1309 684 H1328 M1309 694 H1328 M1309 704 H1328 M1309 714 H1328 M1309 725 H1328 M1309 735 H1328 M1309 745 H1328 M1309 766 H1328 M1309 776 H1328" class="r"/>
<text class="s" x="1316" y="589">40</text><text class="s" x="1316" y="600">39</text><text class="s" x="1316" y="610">38</text><text class="s" x="1316" y="620">37</text><text class="s" x="1316" y="630">36</text><text class="s" x="1316" y="641">35</text><text class="s" x="1316" y="651">34</text><text class="s" x="1316" y="661">33</text><text class="s" x="1316" y="671">28</text><text class="s" x="1316" y="682">27</text><text class="s" x="1316" y="692">26</text><text class="s" x="1316" y="702">25</text><text class="s" x="1316" y="712">24</text><text class="s" x="1316" y="723">23</text><text class="s" x="1316" y="733">22</text><text class="s" x="1316" y="743">21</text><text class="s" x="1316" y="764">30</text><text class="s" x="1316" y="774">31</text>
<path d="M1328 591 H1329 M1328 602 H1340 M1328 612 H1350 M1328 622 H1380 M1328 632 H1365 M1328 643 H1365 M1328 653 H1365 M1328 663 H1365" class="g"/>
<text class="t" x="1340" y="630">GO</text><line x1="1340" y1="621" x2="1353" y2="621" stroke="#9a9a9a" stroke-width=".6"/>
<text class="t" x="1340" y="641">MUXC</text><text class="t" x="1340" y="651">MUXA</text><text class="t" x="1340" y="661">MUXB</text>
<!-- VGA resistors -->
<path d="M1328 673 H1340 M1360 673 H1473 V684 M1328 684 H1400 M1420 684 H1488 M1328 694 H1340 M1360 694 H1473 V704 M1328 704 H1400 M1420 704 H1488 M1328 714 H1340 M1360 714 H1473 V725 M1328 725 H1400 M1420 725 H1488 M1328 735 H1340 M1360 735 H1488 M1328 745 H1400 M1420 745 H1488" class="g"/>
<rect x="1340" y="670" width="20" height="6" class="r"/><rect x="1400" y="681" width="20" height="6" class="r"/><rect x="1340" y="691" width="20" height="6" class="r"/><rect x="1400" y="701" width="20" height="6" class="r"/><rect x="1340" y="711" width="20" height="6" class="r"/><rect x="1400" y="722" width="20" height="6" class="r"/><rect x="1340" y="732" width="20" height="6" class="r"/><rect x="1400" y="742" width="20" height="6" class="r"/>
<circle cx="1473" cy="684" r="2" class="j"/><circle cx="1473" cy="704" r="2" class="j"/><circle cx="1473" cy="725" r="2" class="j"/>
<text class="t" x="1366" y="674">R29</text><text class="t" x="1366" y="683">240</text>
<text class="t" x="1426" y="686">R28</text><text class="t" x="1426" y="694">470</text>
<text class="t" x="1366" y="695">R27</text><text class="t" x="1366" y="703">240</text>
<text class="t" x="1426" y="705">R26</text><text class="t" x="1426" y="714">470</text>
<text class="t" x="1366" y="716">R25</text><text class="t" x="1366" y="724">240</text>
<text class="t" x="1426" y="726">R24</text><text class="t" x="1426" y="734">470</text>
<text class="t" x="1366" y="736">R23</text><text class="t" x="1366" y="745">240</text>
<text class="t" x="1426" y="746">R22</text><text class="t" x="1426" y="755">240</text>
<!-- VGA connectors -->
<path d="M1496 680 Q1490 684 1496 688 M1496 700 Q1490 704 1496 708 M1496 721 Q1490 725 1496 729 M1496 731 Q1490 735 1496 739 M1496 741 Q1490 745 1496 749 M1496 762 Q1490 766 1496 770 M1496 772 Q1490 776 1496 780 M1496 783 Q1490 787 1496 791 M1496 793 Q1490 797 1496 801 M1496 804 Q1490 808 1496 812" class="r" stroke-width="1.3"/>
<path d="M1488 684 H1492 M1488 704 H1492 M1488 725 H1492 M1488 735 H1492 M1488 745 H1492 M1488 766 H1492 M1488 776 H1492 M1488 787 H1492 M1488 797 H1492 M1488 808 H1492" class="r"/>
<text class="t" x="1497" y="688">VGA-1</text><text class="t" x="1497" y="708">VGA-2</text><text class="t" x="1497" y="729">VGA-3</text><text class="t" x="1497" y="739">VGA-13</text><text class="t" x="1497" y="749">VGA-14</text>
<text class="t" x="1497" y="770">VGA-5</text><text class="t" x="1497" y="780">VGA-6</text><text class="t" x="1497" y="791">VGA-7</text><text class="t" x="1497" y="801">VGA-8</text><text class="t" x="1497" y="812">VGA-10</text>
<path d="M1473 766 H1488 M1473 776 H1488 M1473 787 H1488 M1473 797 H1488 M1436 808 H1488 M1473 766 V808" class="g"/>
<line x1="1433" y1="800" x2="1433" y2="816" class="r"/><line x1="1433" y1="808" x2="1436" y2="808" class="r"/>
<text class="t" x="1452" y="806">0V</text>
<circle cx="1473" cy="776" r="2" class="j"/><circle cx="1473" cy="787" r="2" class="j"/><circle cx="1473" cy="797" r="2" class="j"/><circle cx="1473" cy="808" r="2" class="j"/>
<!-- Crystal -->
<path d="M1328 766 H1380 V782 M1380 792 V808 H1340 V776 H1328" class="g"/>
<path d="M1380 780 V782 M1380 792 V794 M1373 782 H1387 M1373 792 H1387" class="r" stroke-width="1.3"/>
<rect x="1376" y="784" width="8" height="6" class="r" stroke-width="1.3"/>
<text class="t" transform="translate(1368,798) rotate(-90)">Q2</text>
<text class="t" transform="translate(1402,806) rotate(-90)">5,000Mhz</text>
</g>

<!-- ===== Title block ===== -->
<g>
<path d="M1155 1063 V1014 H1565 M1155 1045 H1565 M1377 1045 V1063 M1457 1045 V1063" class="r"/>
<line x1="1155" y1="1063" x2="1565" y2="1063" class="r" stroke-width="1.5"/>
<text class="rd" x="1160" y="1028" font-size="13">TITLE:</text><text class="rd" x="1211" y="1028" font-size="10">BWS-Baugruppe Z1013.64.PIC</text>
<text class="rd" x="1160" y="1043" font-size="13">Datei: Z1013_64_PIC</text>
<text class="rd" x="1160" y="1058" font-size="12">Date :nicht gespeichert!</text>
<text class="rd" x="1381" y="1058" font-size="12">REV :</text>
<text class="rd" x="1462" y="1058" font-size="12">Seite :2/2</text>
<text class="rd" x="917" y="1057" font-size="9">0.00</text>
</g>
</svg>
</body></html>
